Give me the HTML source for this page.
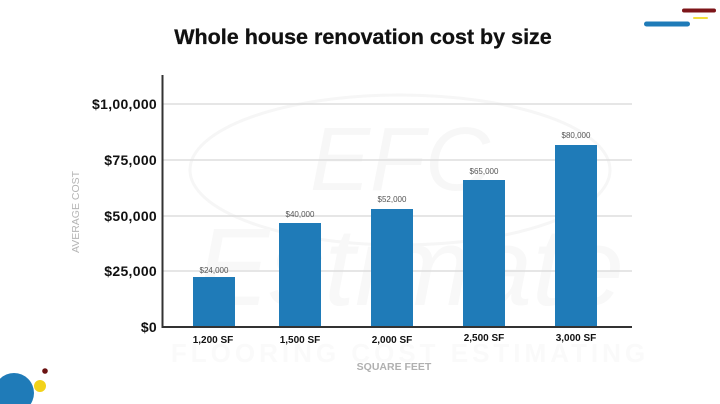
<!DOCTYPE html>
<html>
<head>
<meta charset="utf-8">
<style>
html,body{margin:0;padding:0;background:#fff;}
svg{display:block;}
text{font-family:"Liberation Sans",sans-serif;}
</style>
</head>
<body>
<svg width="720" height="404" viewBox="0 0 720 404" xmlns="http://www.w3.org/2000/svg">
  <rect width="720" height="404" fill="#fff"/>
  <!-- faint watermark -->
  <ellipse cx="400" cy="170" rx="210" ry="75" fill="none" stroke="#f6f6f6" stroke-width="3"/>
  <text x="400" y="190" text-anchor="middle" font-family="Liberation Serif" font-style="italic" font-size="90" fill="#f7f7f7">EFC</text>
  <text x="410" y="305" text-anchor="middle" font-family="Liberation Serif" font-style="italic" font-size="110" fill="#f8f8f8">Estimate</text>
  <text x="410" y="362" text-anchor="middle" font-weight="bold" font-size="26" fill="#fafafa" letter-spacing="4">FLOORING COST ESTIMATING</text>

  <!-- title -->
  <text x="363" y="44" text-anchor="middle" font-weight="bold" font-size="21.5" fill="#111" stroke="#111" stroke-width="0.3">Whole house renovation cost by size</text>

  <!-- decoration top right -->
  <rect x="682" y="8.5" width="34" height="4" rx="2" fill="#7d1519"/>
  <rect x="693" y="17" width="15" height="2" rx="1" fill="#f2dd3a"/>
  <rect x="644" y="21.5" width="46" height="5" rx="2.5" fill="#1f7bb8"/>

  <!-- decoration bottom left -->
  <circle cx="14" cy="393" r="20" fill="#1f7bb8"/>
  <circle cx="40" cy="386" r="6" fill="#f2d21a"/>
  <circle cx="45" cy="371" r="2.8" fill="#6b1212"/>

  <!-- gridlines -->
  <g stroke="#dedede" stroke-width="1.5">
    <line x1="163" y1="104" x2="632" y2="104"/>
    <line x1="163" y1="160" x2="632" y2="160"/>
    <line x1="163" y1="216" x2="632" y2="216"/>
    <line x1="163" y1="271" x2="632" y2="271"/>
  </g>

  <!-- bars -->
  <g fill="#1f7bb8">
    <rect x="193" y="277" width="42" height="50"/>
    <rect x="279" y="223" width="42" height="104"/>
    <rect x="371" y="209" width="42" height="118"/>
    <rect x="463" y="180" width="42" height="147"/>
    <rect x="555" y="145" width="42" height="182"/>
  </g>

  <!-- axes -->
  <line x1="162.5" y1="75" x2="162.5" y2="328" stroke="#333" stroke-width="2"/>
  <line x1="162" y1="327" x2="632" y2="327" stroke="#333" stroke-width="2"/>

  <!-- y tick labels -->
  <g font-weight="bold" font-size="14" fill="#111" text-anchor="end" letter-spacing="0.3">
    <text x="157" y="109">$1,00,000</text>
    <text x="157" y="165">$75,000</text>
    <text x="157" y="221">$50,000</text>
    <text x="157" y="276">$25,000</text>
    <text x="157" y="332">$0</text>
  </g>

  <!-- value labels -->
  <g font-size="8" fill="#555" text-anchor="middle">
    <text x="214" y="273">$24,000</text>
    <text x="300" y="217">$40,000</text>
    <text x="392" y="202">$52,000</text>
    <text x="484" y="174">$65,000</text>
    <text x="576" y="138">$80,000</text>
  </g>

  <!-- x tick labels -->
  <g font-weight="bold" font-size="10" fill="#111" text-anchor="middle">
    <text x="213" y="343">1,200 SF</text>
    <text x="300" y="343">1,500 SF</text>
    <text x="392" y="343">2,000 SF</text>
    <text x="484" y="341">2,500 SF</text>
    <text x="576" y="341">3,000 SF</text>
  </g>

  <!-- axis titles -->
  <text x="394" y="370" text-anchor="middle" font-weight="bold" font-size="10.5" fill="#b0b0b0">SQUARE FEET</text>
  <text transform="translate(79,212) rotate(-90)" text-anchor="middle" font-size="10.5" fill="#b5b5b5">AVERAGE COST</text>
</svg>
</body>
</html>
